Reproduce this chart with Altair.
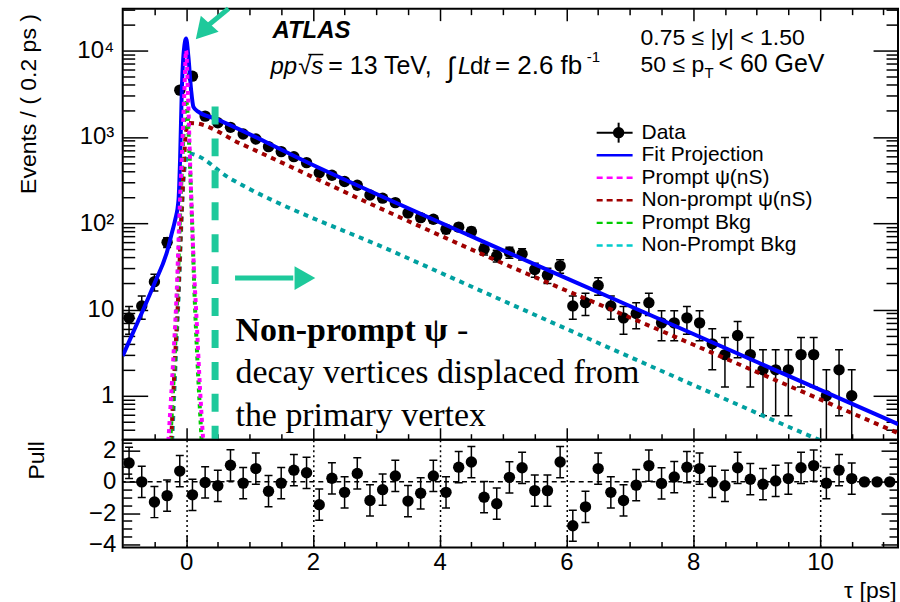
import altair as alt
import numpy as np
import pandas as pd

# ------------------------------------------------------------------ data
tau = [-0.9, -0.7, -0.5, -0.3, -0.1, 0.1, 0.3, 0.5, 0.7, 0.9,
       1.1, 1.3, 1.5, 1.7, 1.9, 2.1, 2.3, 2.5, 2.7, 2.9,
       3.1, 3.3, 3.5, 3.7, 3.9, 4.1, 4.3, 4.5, 4.7, 4.9,
       5.1, 5.3, 5.5, 5.7, 5.9, 6.1, 6.3, 6.5, 6.7, 6.9,
       7.1, 7.3, 7.5, 7.7, 7.9, 8.1, 8.3, 8.5, 8.7, 8.9,
       9.1, 9.3, 9.5, 9.7, 9.9, 10.1, 10.3, 10.5, 10.7, 10.9, 11.1]
counts = [8, 11, 21, 60, 3480, 5050, 1740, 1460, 1290, 1080,
          944, 771, 675, 590, 503, 385, 359, 304, 275, 212,
          195, 173, 131, 116, 111, 85, 90, 80, 50, 42,
          46, 44, 29, 25, 32, 11, 12, 19, 11, 8,
          9, 12, 7, 7, 8, 7, 4, 3, 5, 3,
          2, 2, 2, 3, 3, 1, 2, 1, 0, 0, 0]
pulls = [1.21, 0.0, -1.29, -0.88, 0.69, -0.83, -0.04, -0.25, 1.06, -0.08,
         0.85, -0.60, -0.08, 0.75, 0.58, -1.46, 0.23, -0.67, 0.54, -1.19,
         -0.50, 0.38, -1.23, -0.73, 0.38, -0.67, 0.94, 1.27, -0.98, -1.40,
         0.29, 0.90, -0.56, -0.56, 1.27, -2.81, -1.60, 0.85, -0.67, -1.19,
         -0.21, 1.04, -0.10, 0.31, 0.94, 0.85, 0.0, -0.25, 0.90, 0.17,
         -0.15, 0.06, 0.21, 0.90, 1.04, -0.08, 0.75, 0.21, 0.0, 0.0, 0.0]
pull_err = [1, 1, 1, 1, 1, 1, 1, 1, 1, 1,
            1, 1, 1, 1, 1, 1, 1, 1, 1, 1,
            1, 1, 1, 1, 1, 1, 1, 1, 1, 1,
            1, 1, 1, 1, 1, 1, 1, 1, 1, 1,
            1, 1, 1, 1, 1, 1, 1, 1, 1, 1,
            1, 1, 1, 1, 1, 1, 1, 1, 0, 0, 0]

fit_tau = [-1.0, -0.7, -0.5, -0.3, -0.225, -0.173, -0.12, -0.094, -0.068, -0.036,
           0.0, 0.036, 0.079, 0.115, 0.19, 0.46, 1.95, 5.1, 6.73, 11.23]
fit_val = [2.9, 9.1, 20, 47, 77, 109, 186, 590, 3470, 10000,
           13800, 8500, 3470, 2230, 1960, 1630, 492, 45, 13.4, 0.47]

prompt_tau = [-0.28, -0.2, -0.147, -0.11, -0.068, -0.03, 0.0, 0.03, 0.063, 0.115, 0.168, 0.22, 0.27]
prompt_val = [0.3, 2.9, 17, 100, 590, 3000, 10000, 3000, 500, 41, 7, 1.18, 0.3]

nonprompt_tau = [-0.236, -0.173, -0.12, -0.079, -0.042, -0.005, 0.04, 0.14, 0.85, 3.05, 4.63, 7.46, 11.23]
nonprompt_val = [0.3, 2.9, 17, 100, 380, 1100, 1450, 1440, 840, 150, 45, 5.8, 0.37]

pbkg_tau = [-0.25, -0.18, -0.135, -0.1, -0.058, -0.02, 0.0, 0.02, 0.055, 0.095, 0.13, 0.175, 0.245]
pbkg_val = [0.3, 2.9, 17, 100, 590, 2000, 2700, 2000, 590, 100, 17, 2.9, 0.3]

npbkg_tau = [-0.22, -0.16, -0.11, -0.07, -0.03, 0.04, 0.69, 3.32, 7.46, 9.98, 10.4]
npbkg_val = [0.3, 3, 20, 120, 400, 640, 331, 45, 2.0, 0.31, 0.23]

legend_labels = ["Data", "Fit Projection", "Prompt \u03c8(nS)", "Non-prompt \u03c8(nS)",
                 "Prompt Bkg", "Non-Prompt Bkg"]

# ------------------------------------------------------------------ styles
FONT = "Liberation Sans"
SERIF = "Liberation Serif"
TEAL = "#1ec99b"
C_FIT = "#0000ff"
C_PR = "#ff00ff"
C_NP = "#a00000"
C_PB = "#00cc00"
C_NPB = "#00a0a0"
W, HT, HP = 777, 432, 108
LBL = 24

xs = alt.Scale(domain=[-1.0, 11.23], nice=False, zero=False)
ys = alt.Scale(type="log", domain=[0.31, 30600], nice=False)
ps = alt.Scale(domain=[-4.2, 2.7], nice=False, zero=False)

X_MAJ = [0, 2, 4, 6, 8, 10]
X_MIN = [-0.5, 0.5, 1, 1.5, 2.5, 3, 3.5, 4.5, 5, 5.5, 6.5, 7, 7.5, 8.5, 9, 9.5, 10.5, 11]
Y_MAJ = [1, 10, 100, 1000, 10000]
Y_MIN = [0.4, 0.5, 0.6, 0.7, 0.8, 0.9, 2, 3, 4, 5, 6, 7, 8, 9,
         20, 30, 40, 50, 60, 70, 80, 90, 200, 300, 400, 500, 600, 700, 800, 900,
         2000, 3000, 4000, 5000, 6000, 7000, 8000, 9000, 20000, 30000]
P_MAJ = [-4, -2, 0, 2]
P_MIN = [-3.5, -3, -2.5, -1.5, -1, -0.5, 0.5, 1, 1.5, 2.5]

df = pd.DataFrame({"tau": tau, "n": counts, "pull": pulls, "perr": pull_err})
dn = df[df.n > 0].copy()
dn["err"] = np.sqrt(dn.n)
dn["lo"] = np.maximum(dn.n - dn.err, 0.01)
dn["hi"] = dn.n + dn.err
dp = df[df.perr > 0].copy()
dp["lo"] = dp.pull - dp.perr
dp["hi"] = dp.pull + dp.perr

one = alt.Data(values=[{}])


def tick_ax(orient, values, size):
    return alt.Axis(orient=orient, values=values, tickSize=size, offset=-size,
                    labels=False, domain=False, grid=False, ticks=True,
                    tickColor="black", tickWidth=1.5, title=None)


def ghost(data, yf, yscale, xaxis, yaxis):
    return alt.Chart(data).mark_point(opacity=0, clip=True).encode(
        x=alt.X("tau:Q", scale=xs, axis=xaxis),
        y=alt.Y(yf + ":Q", scale=yscale, axis=yaxis))


def X(f):
    return alt.X(f + ":Q", scale=xs, axis=None)


def curve(t, v, color, width, dash=None):
    d = pd.DataFrame({"tau": t, "v": v})
    kw = dict(color=color, strokeWidth=width, clip=True, interpolate="monotone")
    if dash:
        kw["strokeDash"] = dash
    return alt.Chart(d).mark_line(**kw).encode(
        x=X("tau"), y=alt.Y("v:Q", scale=ys, axis=None))


def txt(s, x, y, size=23, font=FONT, weight="normal", style="normal",
        align="left", baseline="alphabetic", color="black"):
    return alt.Chart(one).mark_text(
        text=s, fontSize=size, font=font, fontWeight=weight, fontStyle=style,
        align=align, baseline=baseline, color=color).encode(
        x=alt.value(x), y=alt.value(y))


def hline(x1, x2, y, color, width, dash=None):
    kw = dict(color=color, strokeWidth=width)
    if dash:
        kw["strokeDash"] = dash
    return alt.Chart(one).mark_rule(**kw).encode(
        x=alt.value(x1), x2=alt.value(x2), y=alt.value(y))


# ------------------------------------------------------------------ top panel
y_lab_top = alt.Axis(
    orient="left", values=Y_MAJ, ticks=False, tickSize=0, domain=False, grid=False,
    labelExpr="datum.value == 1 ? '1' : datum.value == 10 ? '10' : datum.value == 100 ? '10\u00b2' : datum.value == 1000 ? '10\u00b3' : '10\u2074'",
    labelFont=FONT, labelFontSize=LBL, labelPadding=9, labelColor="black", labelOverlap=False,
    title="Events / ( 0.2 ps )", titleFont=FONT, titleFontSize=23, titleFontWeight="normal",
    titleColor="black", titleAngle=270, titleAlign="right", titleBaseline="middle",
    titleX=-94, titleY=5)

top_layers = [
    ghost(dn, "n", ys, tick_ax("bottom", X_MAJ, 12), y_lab_top),
    ghost(dn, "n", ys, tick_ax("bottom", X_MIN, 6), tick_ax("left", Y_MAJ, 25)),
    ghost(dn, "n", ys, tick_ax("top", X_MAJ, 12), tick_ax("left", Y_MIN, 12)),
    ghost(dn, "n", ys, tick_ax("top", X_MIN, 6), tick_ax("right", Y_MAJ, 25)),
    ghost(dn, "n", ys, None, tick_ax("right", Y_MIN, 12)),
    # data error bars
    alt.Chart(dn).mark_rule(color="black", strokeWidth=1.5, clip=True).encode(
        x=X("tau"), y=alt.Y("lo:Q", scale=ys, axis=None), y2="hi:Q"),
    alt.Chart(dn).mark_point(shape="stroke", size=64, strokeWidth=1.5, color="black",
                             filled=False, opacity=1, clip=True).encode(
        x=X("tau"), y=alt.Y("lo:Q", scale=ys, axis=None)),
    alt.Chart(dn).mark_point(shape="stroke", size=64, strokeWidth=1.5, color="black",
                             filled=False, opacity=1, clip=True).encode(
        x=X("tau"), y=alt.Y("hi:Q", scale=ys, axis=None)),
    alt.Chart(dn).mark_circle(size=130, color="black", opacity=1, clip=True).encode(
        x=X("tau"), y=alt.Y("n:Q", scale=ys, axis=None)),
    # fit and components
    curve(fit_tau, fit_val, C_FIT, 4),
    curve(npbkg_tau, npbkg_val, C_NPB, 4, [5, 5]),
    curve(nonprompt_tau, nonprompt_val, C_NP, 4, [5, 5]),
    curve(pbkg_tau, pbkg_val, C_PB, 4, [4, 4]),
    curve(prompt_tau, prompt_val, C_PR, 4, [4, 4]),
    # annotations
    alt.Chart(one).mark_rule(color=TEAL, strokeWidth=7, strokeDash=[18, 14], clip=True).encode(
        x=alt.XDatum(0.457, type="quantitative", scale=xs, axis=None),
        y=alt.YDatum(2250, type="quantitative", scale=ys, axis=None),
        y2=alt.Y2Datum(0.31)),
    alt.Chart(one).mark_rule(color=TEAL, strokeWidth=5).encode(
        x=alt.XDatum(0.772, type="quantitative", scale=xs, axis=None),
        x2=alt.X2Datum(1.69),
        y=alt.YDatum(23.1, type="quantitative", scale=ys, axis=None)),
    alt.Chart(one).mark_point(shape="triangle-right", size=576, filled=True, color=TEAL,
                              opacity=1).encode(
        x=alt.XDatum(1.874, type="quantitative", scale=xs, axis=None),
        y=alt.YDatum(23.1, type="quantitative", scale=ys, axis=None)),
    alt.Chart(one).mark_rule(color=TEAL, strokeWidth=5).encode(
        x=alt.XDatum(0.669, type="quantitative", scale=xs, axis=None),
        x2=alt.X2Datum(0.362),
        y=alt.YDatum(30600, type="quantitative", scale=ys, axis=None),
        y2=alt.Y2Datum(19950)),
    alt.Chart(one).mark_point(shape="triangle", angle=222, size=576, filled=True, color=TEAL,
                              opacity=1).encode(
        x=alt.XDatum(0.299, type="quantitative", scale=xs, axis=None),
        y=alt.YDatum(17800, type="quantitative", scale=ys, axis=None)),
    # header text
    txt("ATLAS", 150, 29, size=24, weight="bold", style="italic"),
    txt("pp", 148, 65, size=24, style="italic"),
    txt("\u221a", 176, 65, size=24),
    txt("s", 189, 65, size=24, style="italic"),
    hline(186, 201, 46, "black", 1.5),
    txt("= 13 TeV,", 206, 65, size=25),
    txt("\u222b", 325, 68, size=28),
    txt("L", 336, 65, size=24, style="italic"),
    txt("d", 348, 65, size=24),
    txt("t", 361, 65, size=24, style="italic"),
    txt("= 2.6 fb", 373, 65, size=26),
    txt("-1", 465, 53, size=15),
    txt("0.75 \u2264 |y| < 1.50", 519, 36, size=23),
    txt("50 \u2264 p", 519, 63, size=23),
    txt("T", 583, 69, size=15),
    txt("< 60 GeV", 597, 63, size=25),
    # annotation text
    txt("Non-prompt \u03c8", 113, 333, size=34, font=SERIF, weight="bold"),
    txt("-", 335, 333, size=34, font=SERIF),
    txt("decay vertices displaced from", 113, 375, size=34, font=SERIF),
    txt("the primary vertex", 113, 418, size=34, font=SERIF),
]

# legend
leg_y = [124.3, 146.9, 169.5, 192.1, 214.7, 237.3]
leg_col = ["black", C_FIT, C_PR, C_NP, C_PB, "#00cccc"]
for i, lab in enumerate(legend_labels):
    top_layers.append(txt(lab, 520, leg_y[i], size=21, baseline="middle"))
    if i == 0:
        top_layers.append(hline(475, 511, leg_y[i], "black", 2))
        top_layers.append(alt.Chart(one).mark_rule(color="black", strokeWidth=2).encode(
            x=alt.value(497), y=alt.value(leg_y[i] - 10), y2=alt.value(leg_y[i] + 10)))
        top_layers.append(alt.Chart(one).mark_circle(size=130, color="black", opacity=1).encode(
            x=alt.value(497), y=alt.value(leg_y[i])))
    elif i == 1:
        top_layers.append(hline(475, 511, leg_y[i], leg_col[i], 2.5))
    else:
        top_layers.append(hline(475, 511, leg_y[i], leg_col[i], 2.5, [6, 4]))

top = alt.layer(*top_layers).resolve_axis(x="independent", y="independent").properties(
    width=W, height=HT)

# ------------------------------------------------------------------ pull panel
x_lab_pull = alt.Axis(
    orient="bottom", values=X_MAJ, ticks=False, tickSize=0, domain=False,
    grid=True, gridColor="black", gridDash=[2, 3], gridWidth=1.5,
    labelFont=FONT, labelFontSize=LBL, labelPadding=3, labelColor="black",
    labelOverlap=False, labelFlush=False, format="d",
    title="\u03c4 [ps]", titleFont=FONT, titleFontSize=23, titleFontWeight="normal",
    titleColor="black", titleAlign="right", titleBaseline="middle", titleX=775, titleY=43)
y_lab_pull = alt.Axis(
    orient="left", values=P_MAJ, ticks=False, tickSize=0, domain=False, grid=False,
    labelFont=FONT, labelFontSize=LBL, labelPadding=7, labelColor="black", labelOverlap=False,
    format="d",
    title="Pull", titleFont=FONT, titleFontSize=23, titleFontWeight="normal",
    titleColor="black", titleAngle=270, titleAlign="right", titleBaseline="middle",
    titleX=-86, titleY=1)

bot_layers = [
    ghost(df, "pull", ps, x_lab_pull, y_lab_pull),
    ghost(df, "pull", ps, tick_ax("bottom", X_MAJ, 12), tick_ax("left", P_MAJ, 17)),
    ghost(df, "pull", ps, tick_ax("bottom", X_MIN, 6), tick_ax("left", P_MIN, 9)),
    ghost(df, "pull", ps, None, tick_ax("right", P_MAJ, 17)),
    ghost(df, "pull", ps, None, tick_ax("right", P_MIN, 9)),
    alt.Chart(one).mark_rule(color="black", strokeWidth=1.5, strokeDash=[5, 4]).encode(
        y=alt.YDatum(0, type="quantitative", scale=ps, axis=None)),
    alt.Chart(dp).mark_rule(color="black", strokeWidth=1.5, clip=True).encode(
        x=X("tau"), y=alt.Y("lo:Q", scale=ps, axis=None), y2="hi:Q"),
    alt.Chart(dp).mark_point(shape="stroke", size=64, strokeWidth=1.5, color="black",
                             filled=False, opacity=1, clip=True).encode(
        x=X("tau"), y=alt.Y("lo:Q", scale=ps, axis=None)),
    alt.Chart(dp).mark_point(shape="stroke", size=64, strokeWidth=1.5, color="black",
                             filled=False, opacity=1, clip=True).encode(
        x=X("tau"), y=alt.Y("hi:Q", scale=ps, axis=None)),
    alt.Chart(df).mark_circle(size=130, color="black", opacity=1, clip=True).encode(
        x=X("tau"), y=alt.Y("pull:Q", scale=ps, axis=None)),
]

bot = alt.layer(*bot_layers).resolve_axis(x="independent", y="independent").properties(
    width=W, height=HP)

chart = alt.vconcat(top, bot, spacing=0, bounds="flush").properties(
    padding={"left": 17, "top": 4, "right": 0, "bottom": 1},
    background="white",
).configure_view(stroke="black", strokeWidth=2)

chart.save("out.html", embed_options={"renderer": "svg", "actions": False})
